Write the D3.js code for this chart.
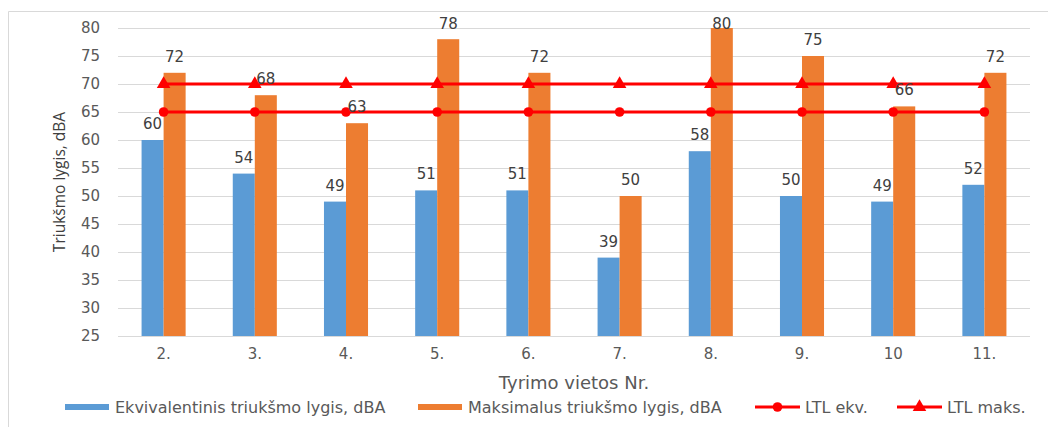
<!DOCTYPE html>
<html>
<head>
<meta charset="utf-8">
<script src="https://cdn.jsdelivr.net/npm/d3@7"></script>
<style>
  html, body { margin: 0; padding: 0; background: #fff; }
  svg { display: block; font-family: "DejaVu Sans", "Open Sans", sans-serif; }
</style>
</head>
<body>
<svg id="chart" width="1048" height="427"></svg>
<script>
// Measurement sites and noise levels
const sites = ["2.", "3.", "4.", "5.", "6.", "7.", "8.", "9.", "10", "11."];
const equivalentLevel = [60, 54, 49, 51, 51, 39, 58, 50, 49, 52];
const maximumLevel = [72, 68, 63, 78, 72, 50, 80, 75, 66, 72];
const limitEquivalent = [65, 65, 65, 65, 65, 65, 65, 65, 65, 65];
const limitMaximum = [70, 70, 70, 70, 70, 70, 70, 70, 70, 70];
const yTicks = [25, 30, 35, 40, 45, 50, 55, 60, 65, 70, 75, 80];
const seriesNames = ["Ekvivalentinis triukšmo lygis, dBA", "Maksimalus triukšmo lygis, dBA", "LTL ekv.", "LTL maks."];

const blue = "#5b9bd5", orange = "#ed7d31", red = "#ff0000";
const gridColor = "#d9d9d9", tickColor = "#595959", labelColor = "#404040";
const font = "DejaVu Sans";

const svg = d3.select("#chart");
const plot = { left: 118, right: 1030, top: 28, bottom: 336 };

// Outer chart frame (only left and top edges fall inside the canvas)
svg.append("path")
  .attr("d", "M8.5,427 V11.5 H1048")
  .attr("fill", "none").attr("stroke", gridColor).attr("stroke-width", 1);

const x = d3.scaleBand().domain(sites).range([plot.left, plot.right]).paddingInner(0).paddingOuter(0);
const inner = d3.scaleBand().domain([0, 1]).range([0, x.bandwidth()]).paddingInner(0).paddingOuter(1.07);
const y = d3.scaleLinear().domain([25, 80]).range([plot.bottom, plot.top]);

// Horizontal gridlines
svg.append("g").selectAll("line").data(yTicks).join("line")
  .attr("x1", plot.left).attr("x2", plot.right)
  .attr("y1", d => Math.round(y(d)) + 0.5).attr("y2", d => Math.round(y(d)) + 0.5)
  .attr("stroke", gridColor).attr("stroke-width", 1);

// Y axis labels
const yAxis = d3.axisLeft(y).tickValues(yTicks).tickSize(0).tickPadding(0);
const gy = svg.append("g").attr("transform", `translate(${plot.left - 18},0)`).call(yAxis);
gy.select(".domain").remove();
gy.selectAll("text").attr("fill", tickColor).attr("font-size", 15).attr("font-family", font);

// X axis labels
const xAxis = d3.axisBottom(x).tickSize(0).tickPadding(0);
const gx = svg.append("g").attr("transform", `translate(0,${plot.bottom + 12})`).call(xAxis);
gx.select(".domain").remove();
gx.selectAll("text").attr("fill", tickColor).attr("font-size", 15).attr("font-family", font);

// Bars
const barSeries = [
  { values: equivalentLevel, color: blue, slot: 0 },
  { values: maximumLevel, color: orange, slot: 1 }
];
barSeries.forEach(s => {
  svg.append("g").selectAll("rect").data(sites).join("rect")
    .attr("x", d => x(d) + inner(s.slot))
    .attr("width", inner.bandwidth())
    .attr("y", (d, i) => y(s.values[i]))
    .attr("height", (d, i) => y(25) - y(s.values[i]))
    .attr("fill", s.color);
});

// Limit lines with markers
const cx = i => x(sites[i]) + x.bandwidth() / 2;
const lineGen = d3.line().x((d, i) => cx(i)).y(d => y(d));
[limitEquivalent, limitMaximum].forEach(series => {
  svg.append("path").datum(series).attr("d", lineGen)
    .attr("fill", "none").attr("stroke", red).attr("stroke-width", 3);
});

svg.append("g").selectAll("circle").data(limitEquivalent).join("circle")
  .attr("cx", (d, i) => cx(i)).attr("cy", d => y(d)).attr("r", 4.8).attr("fill", red);

const tri = d3.symbol().type(d3.symbolTriangle).size(80);
svg.append("g").selectAll("path").data(limitMaximum).join("path")
  .attr("d", tri)
  .attr("transform", (d, i) => `translate(${cx(i)},${y(d)})`)
  .attr("fill", red);

// Value labels above bars, kept inside the top of the plot area
const labelTop = plot.top + 1;
barSeries.forEach(s => {
  svg.append("g").selectAll("text").data(sites).join("text")
    .attr("x", d => x(d) + inner(s.slot) + inner.bandwidth() / 2)
    .attr("y", (d, i) => Math.max(y(s.values[i]) - 11, labelTop))
    .attr("text-anchor", "middle")
    .attr("font-size", 15).attr("fill", labelColor)
    .text((d, i) => s.values[i]);
});

// Axis titles
svg.append("text")
  .attr("transform", `translate(65,${(plot.top + plot.bottom) / 2}) rotate(-90)`)
  .attr("text-anchor", "middle")
  .attr("font-size", 15.5).attr("fill", labelColor)
  .attr("font-family", "Open Sans")
  .text("Triukšmo lygis, dBA");

svg.append("text")
  .attr("x", (plot.left + plot.right) / 2).attr("y", 389)
  .attr("text-anchor", "middle")
  .attr("font-size", 18).attr("fill", tickColor)
  .text("Tyrimo vietos Nr.");

// Legend
const legendY = 407;
const legendItems = [
  { name: seriesNames[0], x: 65, type: "bar", color: blue },
  { name: seriesNames[1], x: 418, type: "bar", color: orange },
  { name: seriesNames[2], x: 755, type: "circle", color: red },
  { name: seriesNames[3], x: 897, type: "triangle", color: red }
];
const lg = svg.append("g");
legendItems.forEach(it => {
  if (it.type === "bar") {
    lg.append("rect").attr("x", it.x).attr("y", legendY - 3).attr("width", 44).attr("height", 6).attr("fill", it.color);
  } else {
    lg.append("line").attr("x1", it.x).attr("x2", it.x + 45).attr("y1", legendY).attr("y2", legendY)
      .attr("stroke", it.color).attr("stroke-width", 3);
    if (it.type === "circle") {
      lg.append("circle").attr("cx", it.x + 22.5).attr("cy", legendY).attr("r", 4.8).attr("fill", it.color);
    } else {
      lg.append("path").attr("d", tri).attr("transform", `translate(${it.x + 22.5},${legendY})`).attr("fill", it.color);
    }
  }
  lg.append("text").attr("x", it.x + 50).attr("y", legendY + 6)
    .attr("font-size", 16).attr("fill", tickColor).text(it.name);
});
</script>
</body>
</html>
